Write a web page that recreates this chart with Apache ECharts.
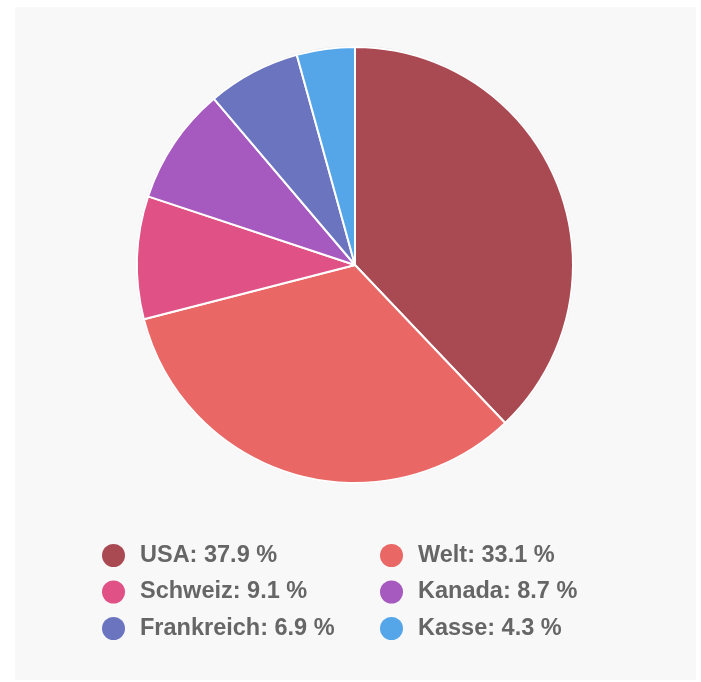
<!DOCTYPE html>
<html><head><meta charset="utf-8">
<script src="https://cdn.jsdelivr.net/npm/echarts@6/dist/echarts.min.js"></script>
<style>html,body{margin:0;padding:0;background:#fff}#c{width:701px;height:682px}</style>
</head><body><div id="c"></div>
<script>
var categories = ['USA', 'Welt', 'Schweiz', 'Kanada', 'Frankreich', 'Kasse'];
var values = [37.9, 33.1, 9.1, 8.7, 6.9, 4.3];
var colors = ['#a94a53', '#e96866', '#e05286', '#a659be', '#6b74bf', '#55a6e9'];

var data = categories.map(function (c, i) {
  return { name: c, value: values[i], itemStyle: { color: colors[i] } };
});
var valueByName = {};
categories.forEach(function (c, i) { valueByName[c] = values[i]; });

var chart = echarts.init(document.getElementById('c'), null, { renderer: 'canvas' });
chart.setOption({
  animation: false,
  backgroundColor: '#ffffff',
  graphic: [{
    type: 'rect', z: -10, silent: true,
    shape: { x: 15, y: 7, width: 681, height: 673 },
    style: { fill: '#f8f8f8' }
  }],
  legend: {
    data: categories,
    left: 102, top: 543, width: 580,
    padding: 0,
    orient: 'horizontal',
    icon: 'circle',
    itemWidth: 43, itemHeight: 23,
    itemGap: 11.5,
    itemStyle: { borderWidth: 0 },
    selectedMode: false,
    formatter: function (n) { return n + ': ' + valueByName[n].toFixed(1) + ' %'; },
    textStyle: {
      color: '#666666', fontSize: 23.5, fontWeight: 'bold',
      fontFamily: 'Liberation Sans, Arial, sans-serif',
      width: 228.5, lineHeight: 25, padding: 0
    }
  },
  series: [{
    type: 'pie', silent: true, center: [355, 265], radius: 219,
    label: { show: false }, labelLine: { show: false },
    data: [{ value: 1, name: '_ring', itemStyle: { color: '#d8d8d8' } }],
    z: 1, legendHoverLink: false
  }, {
    type: 'pie', center: [355, 265], radius: 218,
    startAngle: 90, clockwise: true,
    label: { show: false }, labelLine: { show: false },
    itemStyle: { borderColor: '#ffffff', borderWidth: 2 },
    emphasis: { disabled: true },
    data: data, z: 2
  }]
});
</script></body></html>
